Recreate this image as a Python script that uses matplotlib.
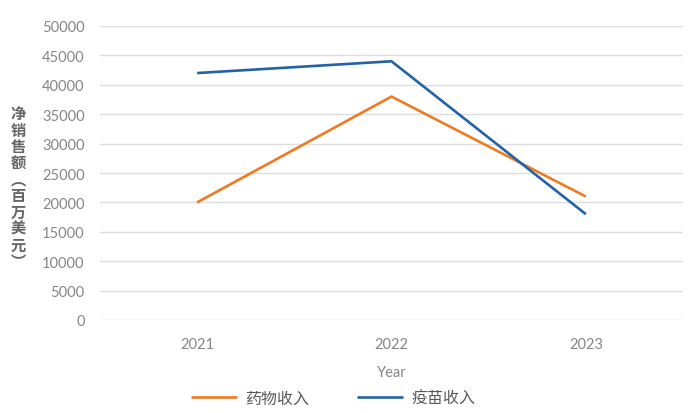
import matplotlib
matplotlib.use("Agg")
import matplotlib.pyplot as plt

# 数据
years = ["2021", "2022", "2023"]
drug_income = [20000, 38000, 21000]
vaccine_income = [42000, 44000, 18000]
y_ticks = list(range(0, 50001, 5000))

plt.rcParams['font.family'] = ['Lato', 'Noto Sans CJK SC', 'DejaVu Sans']

fig = plt.figure(figsize=(6.92, 4.14), dpi=100)
ax = fig.add_axes([100 / 692, 1 - 321 / 414, 583 / 692, 294 / 414])

x = list(range(len(years)))
ax.plot(x, drug_income, color='#F07A22', lw=1.9, label='药物收入',
        solid_capstyle='butt')
ax.plot(x, vaccine_income, color='#2263A8', lw=1.9, label='疫苗收入',
        solid_capstyle='butt')

ax.set_xlim(-0.5, 2.5)
ax.set_ylim(0, 50000)
ax.set_yticks(y_ticks)
ax.set_xticks(x)
ax.set_xticklabels(years)
ax.tick_params(axis='both', length=0, labelsize=10.5, labelcolor='#868686')
ax.tick_params(axis='y', pad=11)
ax.tick_params(axis='x', pad=12)
ax.grid(axis='y', color='#dedede', lw=1)
ax.set_axisbelow(True)
for s in ax.spines.values():
    s.set_visible(False)

ax.set_xlabel('Year', fontsize=10.5, color='#868686', labelpad=10)

# 竖排的纵轴标题
ylabel = '净销售额︵百万美元︶'
fig.text(18 / 692, 1 - 188 / 414, '\n'.join(ylabel), ha='center', va='center',
         fontsize=11, color='#666666', linespacing=1.03,
         family=['Noto Sans CJK SC', 'DejaVu Sans'], fontweight='bold')

fig.legend(loc='center', bbox_to_anchor=(333 / 692, 1 - 399 / 414),
           ncol=2, frameon=False, handlelength=2.9, handletextpad=0.5,
           columnspacing=3.0, prop={'family': 'Noto Sans CJK SC', 'size': 11.5},
           labelcolor='#595959')

fig.savefig('out.png', dpi=100)
